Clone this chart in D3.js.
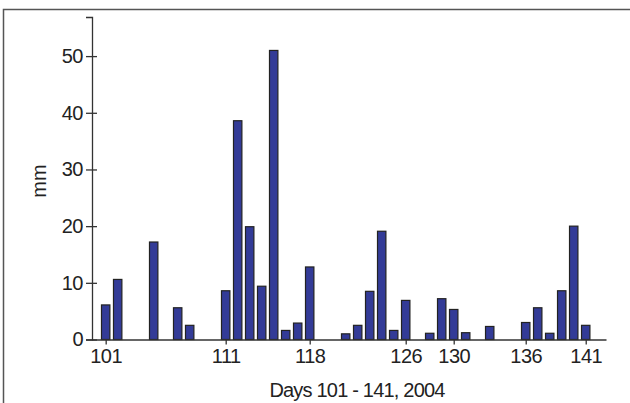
<!DOCTYPE html>
<html>
<head>
<meta charset="utf-8">
<script src="https://cdn.jsdelivr.net/npm/d3@7"></script>
<style>
  html, body { margin: 0; padding: 0; background: #fff; }
  svg { display: block; font-family: "Liberation Sans", Arial, Helvetica, sans-serif; }
</style>
</head>
<body>
<svg id="chart" width="630" height="403"></svg>
<script>
// Daily values, days 101-141 (mm)
const days = d3.range(101, 142);
const values = [
  6.1, 10.6, 0, 0, 17.2, 0, 5.6, 2.5, 0, 0,
  8.6, 38.6, 19.9, 9.4, 51.0, 1.6, 2.9, 12.8, 0, 0,
  1.0, 2.5, 8.5, 19.1, 1.6, 6.9, 0, 1.1, 7.2, 5.3,
  1.2, 0, 2.3, 0, 0, 3.0, 5.6, 1.1, 8.6, 20.0,
  2.5
];
const xTicks = [101, 111, 118, 126, 130, 136, 141];
const yTicks = [0, 10, 20, 30, 40, 50];
const xTitle = "Days 101 - 141, 2004";
const yTitle = "mm";

const svg = d3.select("#chart");

// frame (top and left edge)
svg.append("path")
  .attr("d", "M3.5,403 L3.5,9.5 L630,9.5")
  .attr("fill", "none").attr("stroke", "#555").attr("stroke-width", 1.5);

const x = d3.scaleLinear().domain([99.86, 142.69]).range([92, 606]);
const y = d3.scaleLinear().domain([0, 56.9]).range([339.5, 17]);

const data = days.map((d, i) => ({ day: d, v: values[i] })).filter(d => d.v > 0);

const bw = 8.4;
svg.append("g").selectAll("rect").data(data).join("rect")
  .attr("x", d => x(d.day) - bw / 2)
  .attr("y", d => y(d.v))
  .attr("width", bw)
  .attr("height", d => y(0) - y(d.v))
  .attr("fill", "#333b97")
  .attr("stroke", "#222")
  .attr("stroke-width", 1.2);

const tickFont = "Liberation Sans, Arial, sans-serif";

// y axis
const yAxis = svg.append("g").attr("transform", `translate(${x.range()[0]},0)`)
  .call(d3.axisLeft(y).tickValues(yTicks).tickSize(6).tickPadding(3).tickFormat(d3.format("d")));
yAxis.select(".domain").attr("stroke", "#333").attr("stroke-width", 1.3);
yAxis.selectAll(".tick line").attr("x1", 5).attr("x2", -6).attr("stroke", "#333").attr("stroke-width", 1.3);
yAxis.selectAll(".tick text").attr("font-size", 20).attr("fill", "#222")
  .attr("font-family", tickFont).attr("letter-spacing", "-0.5px");

// x axis
const xAxis = svg.append("g").attr("transform", `translate(0,${y(0)})`)
  .call(d3.axisBottom(x).tickValues(xTicks).tickSize(5).tickSizeOuter(0).tickPadding(4).tickFormat(d3.format("d")));
xAxis.select(".domain").attr("stroke", "#333").attr("stroke-width", 1.3);
xAxis.selectAll(".tick line").attr("stroke", "#333").attr("stroke-width", 1.3);
xAxis.selectAll(".tick text").attr("font-size", 20).attr("fill", "#222")
  .attr("font-family", tickFont).attr("letter-spacing", "-0.5px");

// titles
svg.append("text")
  .attr("x", 357).attr("y", 397)
  .attr("text-anchor", "middle")
  .attr("font-size", 20).attr("letter-spacing", "-0.8px").attr("fill", "#222")
  .text(xTitle);

svg.append("text")
  .attr("transform", "translate(46,181) rotate(-90)")
  .attr("text-anchor", "middle")
  .attr("font-size", 20).attr("fill", "#222")
  .text(yTitle);
</script>
</body>
</html>
